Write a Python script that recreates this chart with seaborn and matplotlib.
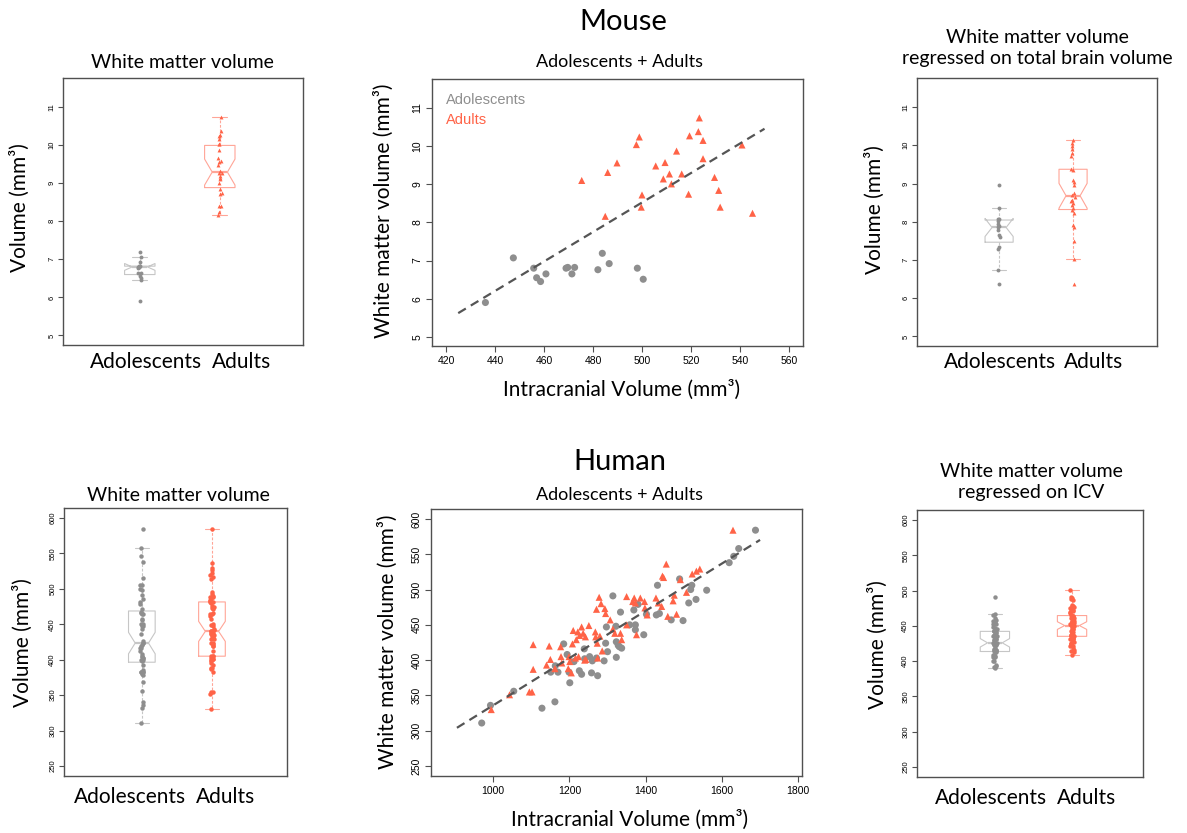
import numpy as np
import pandas as pd
import matplotlib
matplotlib.use("Agg")
import matplotlib.pyplot as plt
import seaborn as sns

GROUPS = ["Adolescents", "Adults"]

# ---------------- Mouse data ----------------
mouse_ado_icv = [436.1, 447.5, 455.8, 457.0, 458.6, 460.8, 469.0, 469.7, 471.4, 472.5,
                 482.0, 483.8, 486.6, 498.1, 500.5]
mouse_ado_wm = [5.90, 7.07, 6.80, 6.55, 6.45, 6.65, 6.80, 6.82, 6.65, 6.82,
                6.76, 7.19, 6.92, 6.80, 6.51]
mouse_adult_icv = [475.4, 485.0, 486.0, 489.8, 497.7, 498.9, 499.7, 500.0, 505.6, 508.7,
                   509.4, 511.2, 512.0, 514.1, 516.2, 519.0, 519.4, 523.0, 523.4, 524.9,
                   524.9, 529.6, 531.3, 531.9, 540.8, 545.1]
mouse_adult_wm = [9.10, 8.16, 9.31, 9.56, 10.04, 10.24, 8.40, 8.72, 9.48, 9.14,
                  9.57, 9.27, 9.01, 9.87, 9.27, 8.74, 10.27, 10.38, 10.74, 10.15,
                  9.67, 9.18, 8.84, 8.40, 10.03, 8.24]
# white matter regressed on total brain volume
mouse_ado_reg = [6.36, 6.74, 7.28, 7.33, 7.60, 7.65, 7.78, 7.85, 7.90, 7.95,
                 8.02, 8.07, 8.08, 8.37, 8.95]
mouse_adult_reg = [6.36, 7.02, 7.49, 7.87, 7.91, 8.24, 8.31, 8.35, 8.44, 8.48,
                   8.53, 8.57, 8.66, 8.70, 8.74, 8.95, 9.05, 9.09, 9.35, 9.38,
                   9.71, 9.79, 9.90, 9.99, 10.05, 10.14]

# ---------------- Human data ----------------
human_ado_icv = [970, 993, 1054, 1128, 1162, 1151, 1163, 1170, 1185, 1194,
                 1199, 1201, 1212, 1226, 1232, 1239, 1253, 1258, 1260, 1271,
                 1274, 1291, 1295, 1297, 1300, 1314, 1322, 1323, 1323, 1328,
                 1331, 1334, 1337, 1358, 1369, 1373, 1373, 1380, 1395, 1402,
                 1428, 1431, 1436, 1467, 1489, 1498, 1513, 1518, 1521, 1532,
                 1560, 1619, 1631, 1644, 1688, 1240]
human_ado_wm = [311, 336, 356, 332, 341, 383, 392, 383, 423, 408,
                383, 368, 398, 385, 380, 416, 405, 382, 399, 403,
                378, 399, 424, 447, 412, 491, 448, 426, 404, 421,
                419, 468, 417, 450, 471, 450, 443, 479, 436, 465,
                464, 506, 466, 457, 515, 456, 481, 500, 506, 486,
                499, 538, 547, 558, 584, 402]
human_adult_icv = [995, 1043, 1095, 1102, 1105, 1105, 1140, 1147, 1150, 1162,
                   1177, 1178, 1180, 1197, 1199, 1201, 1205, 1208, 1210, 1216,
                   1218, 1222, 1224, 1227, 1232, 1236, 1240, 1242, 1243, 1251,
                   1268, 1269, 1271, 1273, 1274, 1278, 1280, 1283, 1286, 1293,
                   1295, 1307, 1314, 1319, 1334, 1337, 1350, 1350, 1366, 1370,
                   1373, 1376, 1386, 1397, 1398, 1404, 1427, 1433, 1442, 1444,
                   1447, 1454, 1458, 1472, 1475, 1481, 1491, 1507, 1522, 1533,
                   1542, 1629]
human_adult_wm = [330, 351, 355, 355, 422, 387, 393, 420, 401, 388,
                  419, 405, 396, 388, 405, 398, 382, 423, 442, 403,
                  429, 440, 405, 435, 447, 438, 400, 433, 401, 449,
                  440, 433, 472, 424, 403, 489, 434, 480, 413, 473,
                  466, 457, 444, 438, 438, 429, 490, 450, 483, 488,
                  481, 436, 488, 483, 474, 464, 488, 481, 476, 519,
                  517, 536, 462, 484, 492, 465, 514, 496, 522, 526,
                  529, 584]

mouse_yticks = [5, 6, 7, 8, 9, 10, 11]
human_yticks = [250, 300, 350, 400, 450, 500, 550, 600]
mouse_xticks = [420, 440, 460, 480, 500, 520, 540, 560]
human_xticks = [1000, 1200, 1400, 1600, 1800]

# ---------------- style ----------------
PT = {"Adolescents": "#8E8E8E", "Adults": "#FF6347"}
BOXC = {"Adolescents": "#C6C6C6", "Adults": "#FFA597"}
FRAME = "#505050"
TICKFONT = "Liberation Sans"

sns.set_theme(style="white")
plt.rcParams["font.family"] = ["Lato", "DejaVu Sans"]
plt.rcParams["text.color"] = "black"

W, H = 1187, 833
fig = plt.figure(figsize=(W / 100, H / 100), dpi=100)
np.random.seed(3)


def add_ax(x0, y0, x1, y1):
    return fig.add_axes([x0 / W, 1 - y1 / H, (x1 - x0) / W, (y1 - y0) / H])


def ftext(x, y, s, **kw):
    kw.setdefault("ha", "center")
    kw.setdefault("va", "center")
    kw.setdefault("color", "black")
    fig.text(x / W, 1 - y / H, s, **kw)


def style_frame(ax):
    for sp in ax.spines.values():
        sp.set_visible(True)
        sp.set_color(FRAME)
        sp.set_linewidth(1.0)


def box_panel(ax, ado, adu, xlim, ylim, yticks, markers, msize, tsize):
    df = pd.DataFrame({"group": [GROUPS[0]] * len(ado) + [GROUPS[1]] * len(adu),
                       "value": list(ado) + list(adu)})
    sns.boxplot(data=df, x="group", y="value", hue="group", order=GROUPS,
                hue_order=GROUPS, palette=BOXC, fill=False, notch=True,
                width=0.38, saturation=1, linewidth=0.8, showfliers=False,
                whiskerprops=dict(linestyle=(0, (2.5, 1.5))),
                medianprops=dict(linewidth=1.6),
                legend=False, ax=ax)
    for g, m in zip(GROUPS, markers):
        sns.stripplot(data=df[df["group"] == g], x="group", y="value", order=GROUPS,
                      color=PT[g], marker=m, size=msize, jitter=0.025,
                      linewidth=0, ax=ax)
    ax.set_xlim(*xlim)
    ax.set_ylim(*ylim)
    ax.set_xticks([])
    ax.set_yticks(yticks)
    ax.set_xlabel("")
    ax.set_ylabel("")
    style_frame(ax)
    ax.tick_params(axis="y", left=True, direction="out", length=3.5, width=0.8,
                   color=FRAME, labelsize=tsize, pad=2, labelcolor="black")
    for lb in ax.get_yticklabels():
        lb.set_fontfamily(TICKFONT)
        lb.set_rotation(90)
        lb.set_va("center")
        lb.set_ha("right")


def scatter_panel(ax, ax_icv, ax_wm, ad_icv, ad_wm, line_x, xlim, ylim, xticks, yticks, s):
    df = pd.DataFrame({"icv": list(ax_icv) + list(ad_icv),
                       "wm": list(ax_wm) + list(ad_wm),
                       "group": [GROUPS[0]] * len(ax_icv) + [GROUPS[1]] * len(ad_icv)})
    sns.scatterplot(data=df, x="icv", y="wm", hue="group", style="group",
                    markers={"Adolescents": "o", "Adults": "^"}, palette=PT,
                    s=s, linewidth=0, legend=False, ax=ax)
    b, a = np.polyfit(df["icv"], df["wm"], 1)
    lx = np.array(line_x, dtype=float)
    sns.lineplot(x=lx, y=a + b * lx, color="#555555", linewidth=1.6,
                 linestyle=(0, (4, 2.6)), ax=ax)
    ax.set_xlim(*xlim)
    ax.set_ylim(*ylim)
    ax.set_xticks(xticks)
    ax.set_yticks(yticks)
    ax.set_xlabel("")
    ax.set_ylabel("")
    style_frame(ax)
    ax.tick_params(axis="both", left=True, bottom=True, direction="out", length=4,
                   width=0.8, color=FRAME, labelsize=7.5, pad=3, labelcolor="black")
    for lb in ax.get_xticklabels():
        lb.set_fontfamily(TICKFONT)
    for lb in ax.get_yticklabels():
        lb.set_fontfamily(TICKFONT)
        lb.set_rotation(90)
        lb.set_va("center")
        lb.set_ha("right")
    return b, a


LBL = 15
TTL = 14

# ---------------- Mouse row ----------------
ax1 = add_ax(63, 78, 303, 345)
box_panel(ax1, mouse_ado_wm, mouse_adult_wm, (-0.96, 2.04), (4.75, 11.76),
          mouse_yticks, ["o", "^"], 2.8, 5.5)
ax2 = add_ax(432, 79, 803, 346)
scatter_panel(ax2, mouse_ado_icv, mouse_ado_wm, mouse_adult_icv, mouse_adult_wm,
              [425, 550], (414.3, 565.7), (4.76, 11.76), mouse_xticks, mouse_yticks, 26)
ax3 = add_ax(917, 78, 1157, 346)
box_panel(ax3, mouse_ado_reg, mouse_adult_reg, (-1.11, 2.135), (4.75, 11.76),
          mouse_yticks, ["o", "^"], 2.8, 5.5)

# ---------------- Human row ----------------
ax5 = add_ax(431, 509, 802, 776)
hb, ha = scatter_panel(ax5, human_ado_icv, human_ado_wm, human_adult_icv, human_adult_wm,
                       [905, 1700], (837, 1810), (236, 614), human_xticks, human_yticks, 26)
ax4 = add_ax(64, 508, 287, 776)
box_panel(ax4, human_ado_wm, human_adult_wm, (-1.11, 2.07), (236, 614),
          human_yticks, ["o", "o"], 3.2, 5.5)
# white matter regressed on ICV (residualised on pooled ICV slope)
icv_mean = np.mean(human_ado_icv + human_adult_icv)
human_ado_reg = [w - hb * (i - icv_mean) for i, w in zip(human_ado_icv, human_ado_wm)]
human_adult_reg = [w - hb * (i - icv_mean) for i, w in zip(human_adult_icv, human_adult_wm)]
ax6 = add_ax(917, 510, 1143, 777)
box_panel(ax6, human_ado_reg, human_adult_reg, (-1.01, 1.92), (236, 614),
          human_yticks, ["o", "o"], 3.2, 5.5)

# ---------------- texts ----------------
ftext(623, 22, "Mouse", fontsize=21)
ftext(620, 462, "Human", fontsize=21)
ftext(620, 62, "Adolescents + Adults", fontsize=13)
ftext(620, 495, "Adolescents + Adults", fontsize=13)

ftext(182, 63, "White matter volume", fontsize=TTL)
ftext(1037, 48, "White matter volume\nregressed on total brain volume", fontsize=TTL,
      linespacing=1.25)
ftext(178, 495, "White matter volume", fontsize=TTL)
ftext(1031, 482, "White matter volume\nregressed on ICV", fontsize=TTL, linespacing=1.25)

ftext(20, 208, "Volume (mm³)", fontsize=LBL, rotation=90)
ftext(875, 210, "Volume (mm³)", fontsize=LBL, rotation=90)
ftext(23, 643, "Volume (mm³)", fontsize=LBL, rotation=90)
ftext(878, 645, "Volume (mm³)", fontsize=LBL, rotation=90)
ftext(384, 211, "White matter volume (mm³)", fontsize=LBL, rotation=90)
ftext(388, 642, "White matter volume (mm³)", fontsize=LBL, rotation=90)
ftext(622, 390, "Intracranial Volume (mm³)", fontsize=LBL)
ftext(630, 820, "Intracranial Volume (mm³)", fontsize=LBL)

for (xa, xb, y) in [(146, 242, 362), (1000, 1094, 362), (130, 226, 797), (991, 1087, 798)]:
    ftext(xa, y, GROUPS[0], fontsize=LBL)
    ftext(xb, y, GROUPS[1], fontsize=LBL)

# scatter legend (text only)
ftext(446, 100, GROUPS[0], ha="left", fontsize=10.5, color=PT["Adolescents"],
      family=TICKFONT)
ftext(446, 120, GROUPS[1], ha="left", fontsize=10.5, color=PT["Adults"],
      family=TICKFONT)

fig.savefig("out.png", dpi=100)
